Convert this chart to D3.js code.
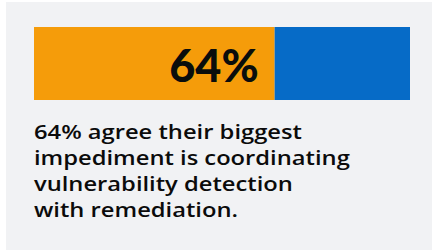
<!DOCTYPE html>
<html>
<head>
<meta charset="utf-8">
<script src="https://cdn.jsdelivr.net/npm/d3@7"></script>
<style>
  html, body { margin: 0; padding: 0; background: #fff; }
</style>
</head>
<body>
<div id="chart"></div>
<script>
const shares = [
    { key: "agree", value: 64, color: "#f59c0a" },
    { key: "other", value: 36, color: "#066bc7" }
];
const headline = "64%";
const captionLines = [
    "64% agree their biggest",
    "impediment is coordinating",
    "vulnerability detection",
    "with remediation."
];

const width = 432;
const height = 250;

const svg = d3.select("#chart")
    .append("svg")
    .attr("width", width)
    .attr("height", height);

// panel background
svg.append("rect")
    .attr("x", 6)
    .attr("y", 2)
    .attr("width", width - 6)
    .attr("height", height - 2)
    .attr("fill", "#f1f2f4");

const x = d3.scaleLinear()
    .domain([0, d3.sum(shares, d => d.value)])
    .range([34, 410]);

let acc = 0;
const stacked = shares.map(d => {
    const s = { ...d, x0: acc, x1: acc + d.value };
    acc += d.value;
    return s;
});

svg.append("g")
    .selectAll("rect")
    .data(stacked)
    .enter()
    .append("rect")
    .attr("x", d => x(d.x0))
    .attr("y", 27)
    .attr("width", d => x(d.x1) - x(d.x0))
    .attr("height", 73)
    .attr("fill", d => d.color);

svg.append("text")
    .attr("x", x(stacked[0].x1) - 16)
    .attr("y", 82)
    .attr("text-anchor", "end")
    .attr("font-family", "Lato, sans-serif")
    .attr("font-weight", 900)
    .attr("font-size", 45)
    .attr("fill", "#0a0d0c")
    .text(headline);

const caption = svg.append("g")
    .attr("font-family", "'Open Sans', sans-serif")
    .attr("font-weight", 600)
    .attr("font-size", 20)
    .attr("fill", "#0b0b0b");

const lines = caption.selectAll("text")
    .data(captionLines)
    .enter()
    .append("text")
    .attr("x", 0)
    .attr("y", (d, i) => 139 + i * 26)
    .text(d => d);

// the original face is wider; stretch horizontally so the longest line spans alike
const w = lines.filter((d, i) => i === 1).node().getComputedTextLength();
const k = 316 / w;
caption.attr("transform", `translate(34,0) scale(${k},1)`);
</script>
</body>
</html>
